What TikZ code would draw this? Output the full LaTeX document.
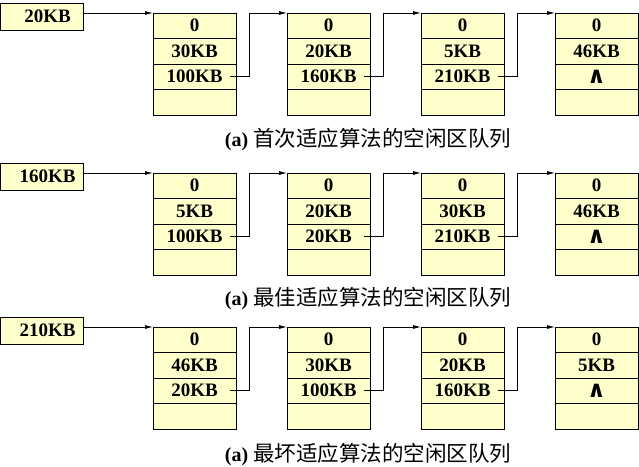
\documentclass[tikz,border=0pt]{standalone}
\usepackage{fontspec}
\setmainfont{Liberation Serif}
\newfontfamily\cjk{Noto Sans CJK SC}
\newfontfamily\symfont{DejaVu Sans}
\usetikzlibrary{arrows.meta, positioning}

\definecolor{blockfill}{RGB}{255,255,204}

% one free block: name, x, y, start, size, next
\newcommand{\freeblk}[6]{%
  \node[cell, anchor=north west] (#1-1) at (#2,#3) {#4};
  \node[cell, below=0pt of #1-1] (#1-2) {#5};
  \node[cell, below=0pt of #1-2] (#1-3) {#6};
  \node[cell, below=0pt of #1-3] (#1-4) {};
}
\newcommand{\nilptr}{\raisebox{-1pt}{\symfont\bfseries\fontsize{23}{23}\selectfont ∧}}

\begin{document}
\begin{tikzpicture}[
      x=1pt, y=-1pt,
      cell/.style={rectangle, draw=black, fill=blockfill, line width=0.9pt, outer sep=0pt, inner sep=0pt,
                   minimum width=83pt, minimum height=25.5pt, font=\bfseries\fontsize{19}{19}\selectfont},
      head/.style={cell, minimum height=27pt, anchor=north west, execute at begin node=\hspace*{12pt}},
      link/.style={-{Latex[length=8pt, width=4pt]}, line width=0.8pt},
      caption/.style={font=\fontsize{20}{20}\selectfont}
    ]
    \useasboundingbox (0,0) rectangle (639,466);

    % (a) first fit
    \node[head] (h1) at (0,3) {20KB};
    \freeblk{b11}{153}{13}{0}{30KB}{100KB}
    \freeblk{b12}{287}{13}{0}{20KB}{160KB}
    \freeblk{b13}{421}{13}{0}{5KB}{210KB}
    \freeblk{b14}{555}{13}{0}{46KB}{\nilptr}
    \draw[link] (h1.east |- b11-1.north) -- (b11-1.north west);
    \draw[link] ([xshift=-6pt]b11-3.east) -- ([xshift=13pt]b11-3.east) |- (b12-1.north west);
    \draw[link] ([xshift=-6pt]b12-3.east) -- ([xshift=13pt]b12-3.east) |- (b13-1.north west);
    \draw[link] ([xshift=-6pt]b13-3.east) -- ([xshift=13pt]b13-3.east) |- (b14-1.north west);
    \node[caption] (cap1) at (368,140) {\textbf{(a)} {\cjk\fontsize{21.5}{21.5}\selectfont 首次适应算法的空闲区队列}};

    % (b) best fit
    \node[head] (h2) at (0,163) {160KB};
    \freeblk{b21}{153}{173}{0}{5KB}{100KB}
    \freeblk{b22}{287}{173}{0}{20KB}{20KB}
    \freeblk{b23}{421}{173}{0}{30KB}{210KB}
    \freeblk{b24}{555}{173}{0}{46KB}{\nilptr}
    \draw[link] (h2.east |- b21-1.north) -- (b21-1.north west);
    \draw[link] ([xshift=-6pt]b21-3.east) -- ([xshift=13pt]b21-3.east) |- (b22-1.north west);
    \draw[link] ([xshift=-6pt]b22-3.east) -- ([xshift=13pt]b22-3.east) |- (b23-1.north west);
    \draw[link] ([xshift=-6pt]b23-3.east) -- ([xshift=13pt]b23-3.east) |- (b24-1.north west);
    \node[caption] (cap2) at (368,299) {\textbf{(a)} {\cjk\fontsize{21.5}{21.5}\selectfont 最佳适应算法的空闲区队列}};

    % (c) worst fit
    \node[head] (h3) at (0,317) {210KB};
    \freeblk{b31}{153}{327}{0}{46KB}{20KB}
    \freeblk{b32}{287}{327}{0}{30KB}{100KB}
    \freeblk{b33}{421}{327}{0}{20KB}{160KB}
    \freeblk{b34}{555}{327}{0}{5KB}{\nilptr}
    \draw[link] (h3.east |- b31-1.north) -- (b31-1.north west);
    \draw[link] ([xshift=-6pt]b31-3.east) -- ([xshift=13pt]b31-3.east) |- (b32-1.north west);
    \draw[link] ([xshift=-6pt]b32-3.east) -- ([xshift=13pt]b32-3.east) |- (b33-1.north west);
    \draw[link] ([xshift=-6pt]b33-3.east) -- ([xshift=13pt]b33-3.east) |- (b34-1.north west);
    \node[caption] (cap3) at (368,455) {\textbf{(a)} {\cjk\fontsize{21.5}{21.5}\selectfont 最坏适应算法的空闲区队列}};
  \end{tikzpicture}
\end{document}
